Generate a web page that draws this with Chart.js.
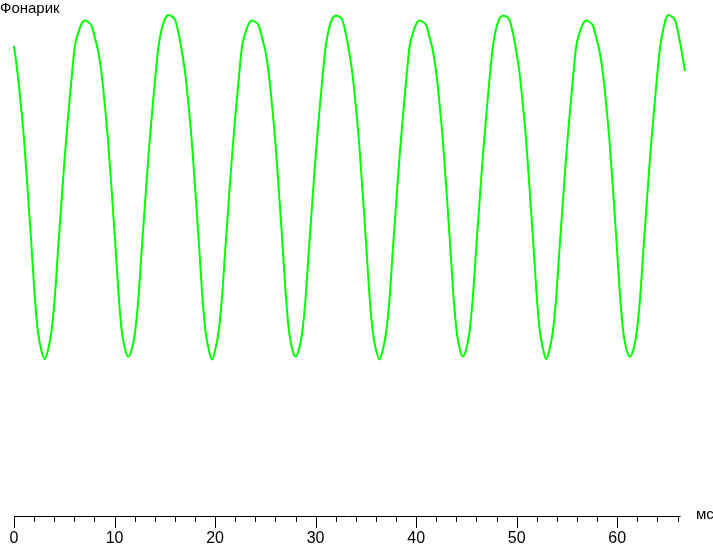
<!DOCTYPE html>
<html>
<head>
<meta charset="utf-8">
<title>Фонарик</title>
<script src="https://cdn.jsdelivr.net/npm/chart.js@4/dist/chart.umd.min.js"></script>
<style>
  html, body { margin: 0; padding: 0; background: #fff; }
  #wrap { position: relative; width: 713px; height: 544px; }
  .lbl { position: absolute; font: 15px "Liberation Sans", Arial, sans-serif; line-height: 16px; color: #000; white-space: nowrap; }
</style>
</head>
<body>
<div id="wrap">
  <canvas id="c" width="713" height="544"></canvas>
  <div class="lbl" id="title" style="left:0; top:0;"></div>
  <div class="lbl" id="unit" style="left:696px; top:506px;"></div>
</div>
<script>
/* flicker of the flashlight: relative brightness vs time, ms */
var TITLE = 'Фонарик';
var UNIT = 'мс';
var X_MAX = 66.74;     // last sample
var AXIS_END = 66.3;   // where the drawn axis line stops
var X_LABELS = [0, 10, 20, 30, 40, 50, 60];
var X_MINOR = [0, 2, 4, 6, 8, 10, 12, 14, 16, 18, 20, 22, 24, 26, 28, 30, 32, 34, 36, 38, 40,
  42, 44, 46, 48, 50, 52, 54, 56, 58, 60, 62, 64, 66];

/* time, ms */
var timeMs = [
  0, 0.36, 0.70, 1.03, 1.36, 1.70, 2.03, 2.36, 2.70,
  3.05, 3.38, 3.72, 4.05, 4.38, 4.71, 5.05, 5.38, 5.71, 6.05, 6.38, 6.71, 7.05, 7.38, 7.71, 8.05, 8.38, 8.71, 9.05, 9.38, 9.71, 10.05, 10.38, 10.71, 11.05,
  11.37, 11.70, 12.04, 12.37, 12.70, 13.03, 13.37, 13.70, 14.03, 14.37, 14.70, 15.03, 15.37, 15.70, 16.03, 16.37, 16.70, 17.03, 17.37, 17.70, 18.03, 18.37, 18.70, 19.03, 19.37,
  19.68, 20.01, 20.35, 20.68, 21.01, 21.34, 21.68, 22.01, 22.34, 22.68, 23.01, 23.34, 23.68, 24.01, 24.34, 24.68, 25.01, 25.34, 25.68, 26.01, 26.34, 26.68, 27.01, 27.34, 27.68,
  28.00, 28.33, 28.67, 29.00, 29.33, 29.66, 30.00, 30.33, 30.66, 31.00, 31.33, 31.66, 32.00, 32.33, 32.66, 33.00, 33.33, 33.66, 34.00, 34.33, 34.66, 35.00, 35.33, 35.66, 36.00,
  36.35, 36.68, 37.02, 37.35, 37.68, 38.01, 38.35, 38.68, 39.01, 39.35, 39.68, 40.01, 40.35, 40.68, 41.01, 41.35, 41.68, 42.01, 42.35, 42.68, 43.01, 43.35, 43.68, 44.01, 44.35,
  44.63, 44.96, 45.30, 45.63, 45.96, 46.29, 46.63, 46.96, 47.29, 47.63, 47.96, 48.29, 48.63, 48.96, 49.29, 49.63, 49.96, 50.29, 50.63, 50.96, 51.29, 51.63, 51.96, 52.29, 52.63,
  52.92, 53.25, 53.59, 53.92, 54.25, 54.58, 54.92, 55.25, 55.58, 55.92, 56.25, 56.58, 56.92, 57.25, 57.58, 57.92, 58.25, 58.58, 58.92, 59.25, 59.58, 59.92, 60.25, 60.58, 60.92,
  61.27, 61.60, 61.94, 62.27, 62.60, 62.93, 63.27, 63.60, 63.93, 64.27, 64.60, 64.85, 65.08, 65.41, 65.74, 66.08, 66.41, 66.74
];

/* brightness, % of max */
var brightness = [
  94.0, 88.5, 81.9, 74.5, 65.2, 55.2, 44.9, 37.2, 33.3,
  31.4, 33.2, 36.8, 43.5, 53.2, 62.5, 71.9, 79.9, 87.2, 93.9, 96.6, 98.4, 99.1, 98.8, 98.1, 95.6, 92.9, 88.5, 81.9, 74.5, 65.2, 55.2, 44.9, 37.2, 33.3,
  31.9, 33.2, 36.8, 43.5, 53.2, 62.5, 71.9, 79.9, 87.2, 93.9, 97.5, 99.5, 100.2, 99.9, 99.2, 96.5, 92.9, 88.5, 81.9, 74.5, 65.2, 55.2, 44.9, 37.2, 33.3,
  31.3, 33.2, 36.8, 43.5, 53.2, 62.5, 71.9, 79.9, 87.2, 93.9, 96.6, 98.4, 99.1, 98.8, 98.1, 95.6, 92.9, 88.5, 81.9, 74.5, 65.2, 55.2, 44.9, 37.2, 33.3,
  31.9, 33.2, 36.8, 43.5, 53.2, 62.5, 71.9, 79.9, 87.2, 93.9, 97.5, 99.5, 100.1, 99.9, 99.2, 96.5, 92.9, 88.5, 81.9, 74.5, 65.2, 55.2, 44.9, 37.2, 33.3,
  31.3, 33.2, 36.8, 43.5, 53.2, 62.5, 71.9, 79.9, 87.2, 93.9, 96.6, 98.4, 99.1, 98.8, 98.1, 95.6, 92.9, 88.5, 81.9, 74.5, 65.2, 55.2, 44.9, 37.2, 33.3,
  31.9, 33.2, 36.8, 43.5, 53.2, 62.5, 71.9, 79.9, 87.2, 93.9, 97.5, 99.5, 100.1, 99.9, 99.2, 96.5, 92.9, 88.5, 81.9, 74.5, 65.2, 55.2, 44.9, 37.2, 33.3,
  31.4, 33.2, 36.8, 43.5, 53.2, 62.5, 71.9, 79.9, 87.2, 93.9, 96.6, 98.4, 99.1, 98.8, 98.1, 95.6, 92.9, 88.5, 81.9, 74.5, 65.2, 55.2, 44.9, 37.2, 33.3,
  31.9, 33.2, 36.8, 43.5, 53.2, 62.5, 71.9, 79.9, 87.2, 93.9, 97.5, 99.5, 100.2, 99.9, 99.2, 96.5, 92.9, 89.0
];

document.getElementById('title').textContent = TITLE;
document.getElementById('unit').textContent = UNIT;

/* axis line with long ticks every 10 and short ones every 2 */
var axisTicks = {
  id: 'axisTicks',
  afterDraw: function (chart) {
    var ctx = chart.ctx, x = chart.scales.x, y0 = chart.chartArea.bottom;
    ctx.save();
    ctx.strokeStyle = '#000';
    ctx.lineWidth = 1;
    ctx.beginPath();
    ctx.moveTo(x.getPixelForValue(0), y0 + 0.5);
    ctx.lineTo(x.getPixelForValue(AXIS_END), y0 + 0.5);
    X_MINOR.forEach(function (v) {
      var px = Math.round(x.getPixelForValue(v)) + 0.5;
      ctx.moveTo(px, y0);
      ctx.lineTo(px, y0 + (v % 10 === 0 ? 12 : 6));
    });
    ctx.stroke();
    ctx.restore();
  }
};

new Chart(document.getElementById('c'), {
  type: 'line',
  data: {
    datasets: [{
      data: timeMs.map(function (t, i) { return { x: t, y: brightness[i] }; }),
      borderColor: '#00ff00',
      borderWidth: 2,
      pointRadius: 0,
      cubicInterpolationMode: 'monotone',
      clip: false
    }]
  },
  options: {
    responsive: false,
    animation: false,
    events: [],
    layout: { padding: { left: 14, right: 28, top: 16, bottom: 0 } },
    plugins: { legend: { display: false }, tooltip: { enabled: false } },
    scales: {
      x: {
        type: 'linear', min: 0, max: X_MAX,
        afterBuildTicks: function (s) { s.ticks = X_LABELS.map(function (v) { return { value: v }; }); },
        afterFit: function (s) { s.height = 28; s.paddingLeft = 0; s.paddingRight = 0; },
        grid: { display: false, drawTicks: false },
        border: { display: false },
        ticks: { padding: 13, maxRotation: 0, autoSkip: false, color: '#000', font: { family: 'Liberation Sans, Arial', size: 16 } }
      },
      y: { display: false, min: 0, max: 100 }
    }
  },
  plugins: [axisTicks]
});
</script>
</body>
</html>
